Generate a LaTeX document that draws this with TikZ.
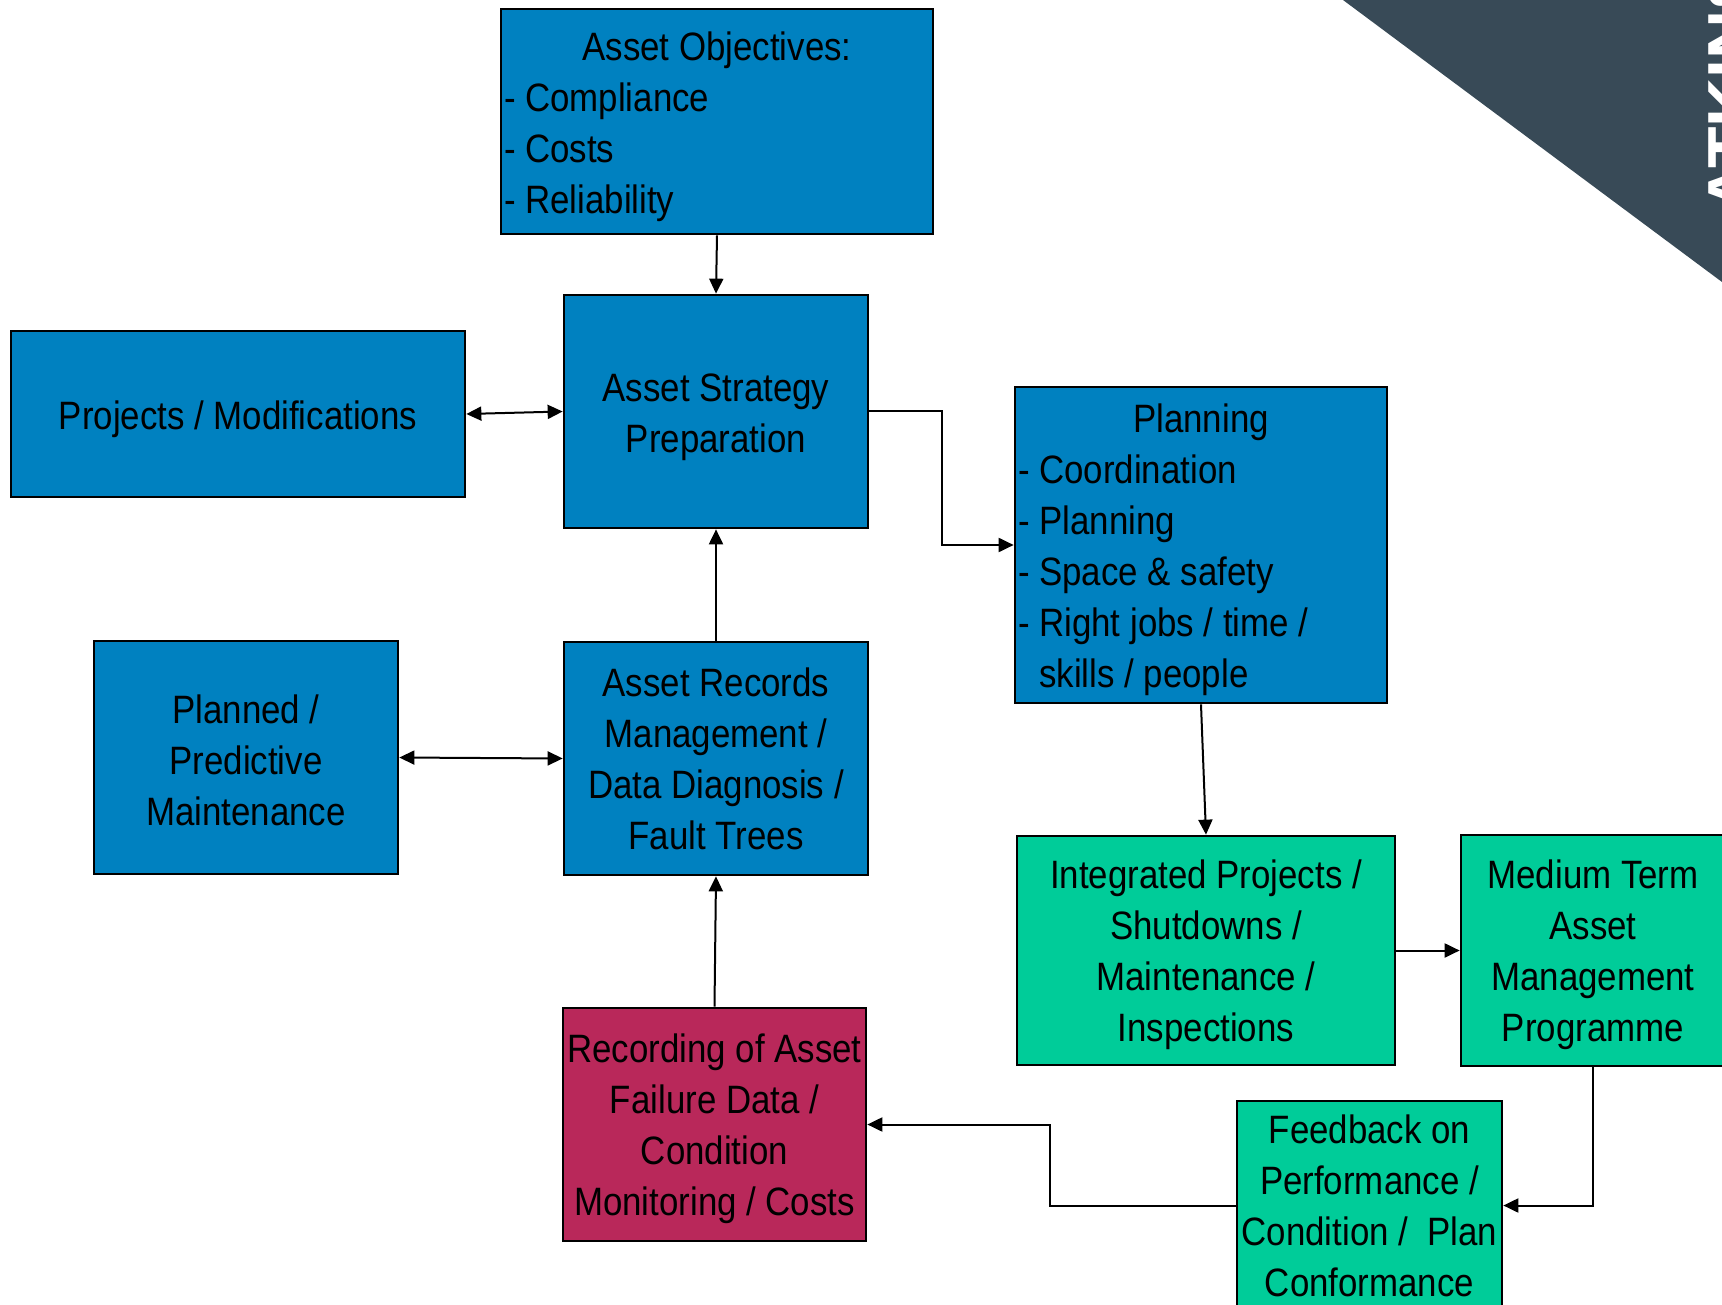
\documentclass[tikz,border=0pt]{standalone}
\usepackage{fontspec}
\setmainfont{Liberation Sans}[FakeStretch=0.88]
\newfontfamily\logofont{Liberation Sans}
\usetikzlibrary{arrows.meta}

\definecolor{boxblue}{RGB}{0,129,192}
\definecolor{boxgreen}{RGB}{0,204,153}
\definecolor{boxred}{RGB}{185,40,90}
\definecolor{logoslate}{RGB}{56,74,87}

% invisible strut that lowers a text block inside its box
\newcommand\textdrop[1][40pt]{\rule{0pt}{#1}}

\tikzset{
  base box/.style={draw=black, line width=2.7pt, inner sep=2pt, text=black,
    font=\fontsize{39.6}{51}\selectfont, align=center},
  blue box/.style={base box, fill=boxblue},
  green box/.style={base box, fill=boxgreen},
  red box/.style={base box, fill=boxred},
  list box/.style={inner xsep=3pt, align=flush left},
  flow/.style={line width=2pt, -{Triangle[length=15pt,width=14pt]}},
  twoway/.style={line width=2pt, {Triangle[length=15pt,width=14pt]}-{Triangle[length=15pt,width=14pt]}},
}

\begin{document}
\begin{tikzpicture}[x=1pt, y=-1pt]
  \useasboundingbox (0,0) rectangle (1722,1305);
  \clip (0,0) rectangle (1722,1305);
  \fill[white] (0,0) rectangle (1722,1305);

  % corner logo band
  \fill[logoslate] (1343,0) -- (1722,0) -- (1722,282) -- cycle;
  \node[rotate=90, anchor=base west, inner sep=0pt, text=white,
        font=\logofont\bfseries\fontsize{68}{68}\selectfont] (logo) at (1755,213) {ATKINS};

  % boxes
  \node[blue box, list box, minimum width=432pt, minimum height=225pt, text width=426pt]
    (ao) at (717,121.5)
    {\textdrop\makebox[\linewidth]{Asset Objectives:}\\- Compliance\\- Costs\\- Reliability};
  \node[blue box, minimum width=304pt, minimum height=233pt]
    (asp) at (716,411.5) {\textdrop Asset Strategy\\Preparation};
  \node[blue box, minimum width=454pt, minimum height=166pt]
    (proj) at (238,414) {\textdrop Projects / Modifications};
  \node[blue box, list box, minimum width=372pt, minimum height=316pt, text width=366pt]
    (plan) at (1201,545)
    {\textdrop[38pt]\makebox[\linewidth]{Planning}\\- Coordination\\- Planning\\- Space \& safety\\- Right jobs / time /\\\phantom{- }skills / people};
  \node[blue box, minimum width=304pt, minimum height=233pt]
    (pm) at (246,757.5) {\textdrop[34pt]Planned /\\Predictive\\Maintenance};
  \node[blue box, minimum width=304pt, minimum height=233pt]
    (rec) at (716,758.5) {Asset Records\\Management /\\Data Diagnosis /\\Fault Trees};
  \node[red box, minimum width=303pt, minimum height=233pt]
    (fail) at (714.5,1124.5) {\textdrop[38pt]Recording of Asset\\Failure Data /\\Condition\\Monitoring / Costs};
  \node[green box, minimum width=378pt, minimum height=229pt]
    (int) at (1206,950.5) {\textdrop[38pt]Integrated Projects /\\Shutdowns /\\Maintenance /\\Inspections};
  \node[green box, minimum width=264pt, minimum height=231pt]
    (mtp) at (1593,950.5) {\textdrop[38pt]Medium Term\\Asset\\Management\\Programme};
  \node[green box, minimum width=265pt, minimum height=209pt]
    (fb) at (1369.5,1205.5) {Feedback on\\Performance /\\Condition / \ Plan\\Conformance};

  % connectors
  \draw[flow] (ao.south) -- (asp.north);
  \draw[twoway] (proj.east) -- (asp.west);
  \draw[flow] (asp.east) -- ++(73,0) |- (plan.west);
  \draw[flow] (rec.north) -- (asp.south);
  \draw[twoway] (pm.east) -- (rec.west);
  \draw[flow] (fail.north) -- (rec.south);
  \draw[flow] (plan.south) -- (int.north);
  \draw[flow] (int.east) -- (mtp.west);
  \draw[flow] (mtp.south) |- (fb.east);
  \draw[flow] (fb.west) -- ++(-186,0) |- (fail.east);
\end{tikzpicture}
\end{document}
